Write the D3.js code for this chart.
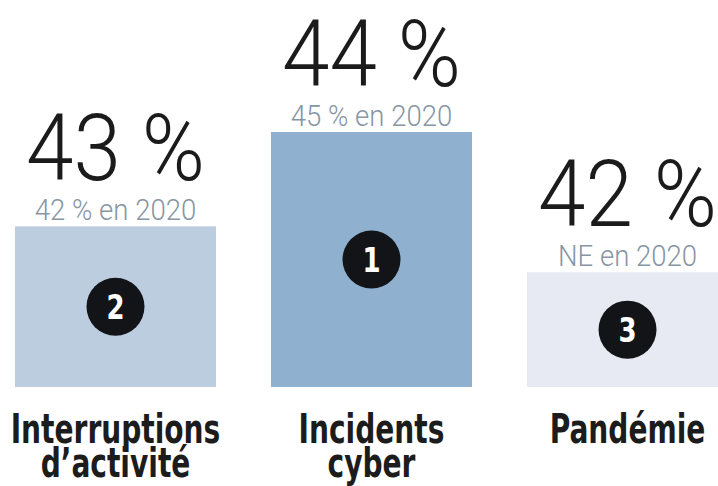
<!DOCTYPE html>
<html>
<head>
<meta charset="utf-8">
<script src="https://cdn.jsdelivr.net/npm/d3@7"></script>
<style>
  body { margin: 0; background: #ffffff; }
  svg { display: block; }
</style>
</head>
<body>
<svg id="canvas"></svg>
<script>
// podium data
const categories = ['Interruptions d’activité', 'Incidents cyber', 'Pandémie'];
const labelLines = [['Interruptions', 'd’activité'], ['Incidents', 'cyber'], ['Pandémie']];
const values2021 = [43, 44, 42];
const values2020 = [42, 45, null]; // null = NE (non évalué)
const ranks = [2, 1, 3];
const podiumLevels = [63, 100, 45]; // bar height, % of the tallest step
const barColors = ['#bccddf', '#8fb0cf', '#e7eaf3'];

const w = 718;
const h = 486;

const svg = d3.select('#canvas').attr('width', w).attr('height', h);

// scales
const xScale = d3.scaleBand().domain(categories).range([15, 728]).paddingInner(0.215).paddingOuter(0);
const yScale = d3.scaleLinear().domain([0, 100]).range([387, 132]);

const idx = d3.range(categories.length);
const cx = (i) => xScale(categories[i]) + xScale.bandwidth() / 2;

// bars
svg.selectAll('rect.bar')
  .data(idx)
  .enter()
  .append('rect')
  .attr('class', 'bar')
  .attr('x', (i) => xScale(categories[i]))
  .attr('y', (i) => yScale(podiumLevels[i]))
  .attr('width', xScale.bandwidth())
  .attr('height', (i) => yScale(0) - yScale(podiumLevels[i]))
  .attr('fill', (i) => barColors[i]);

// rank badges
const badge = svg.selectAll('g.badge')
  .data(idx)
  .enter()
  .append('g')
  .attr('class', 'badge')
  .attr('transform', (i) => 'translate(' + cx(i) + ',' + (yScale(podiumLevels[i]) + yScale(0)) / 2 + ')');

badge.append('circle').attr('r', 29).attr('fill', '#121417');
badge.append('text')
  .attr('text-anchor', 'middle')
  .attr('dy', '0.36em')
  .attr('transform', 'scale(0.85,1)')
  .style('font-family', '"DejaVu Sans Condensed", sans-serif')
  .style('font-weight', 'bold')
  .style('font-size', '34px')
  .attr('fill', '#ffffff')
  .text((i) => ranks[i]);

// big percentages
svg.selectAll('text.value')
  .data(idx)
  .enter()
  .append('text')
  .attr('class', 'value')
  .attr('text-anchor', 'middle')
  .attr('transform', (i) => 'translate(' + cx(i) + ',' + (yScale(podiumLevels[i]) - 46) + ') scale(0.93,1)')
  .style('font-family', 'Roboto, sans-serif')
  .style('font-weight', 300)
  .style('font-size', '92px')
  .attr('fill', '#1b1b1b')
  .text((i) => values2021[i] + ' %');

// previous year
svg.selectAll('text.prev')
  .data(idx)
  .enter()
  .append('text')
  .attr('class', 'prev')
  .attr('text-anchor', 'middle')
  .attr('transform', (i) => 'translate(' + cx(i) + ',' + (yScale(podiumLevels[i]) - 6) + ') scale(0.95,1)')
  .style('font-family', 'Roboto, sans-serif')
  .style('font-weight', 300)
  .style('font-size', '29px')
  .attr('fill', '#8796a4')
  .text((i) => (values2020[i] === null ? 'NE' : values2020[i] + ' %') + ' en 2020');

// category labels
const label = svg.selectAll('text.label')
  .data(idx)
  .enter()
  .append('text')
  .attr('class', 'label')
  .attr('text-anchor', 'middle')
  .attr('transform', (i) => 'translate(' + cx(i) + ',0) scale(0.78,1)')
  .style('font-family', '"DejaVu Sans Condensed", sans-serif')
  .style('font-weight', 'bold')
  .style('font-size', '40px')
  .attr('fill', '#1c1c1c');

label.selectAll('tspan')
  .data((i) => labelLines[i])
  .enter()
  .append('tspan')
  .attr('x', 0)
  .attr('y', (d, j) => 443 + j * 34)
  .text((d) => d);
</script>
</body>
</html>
